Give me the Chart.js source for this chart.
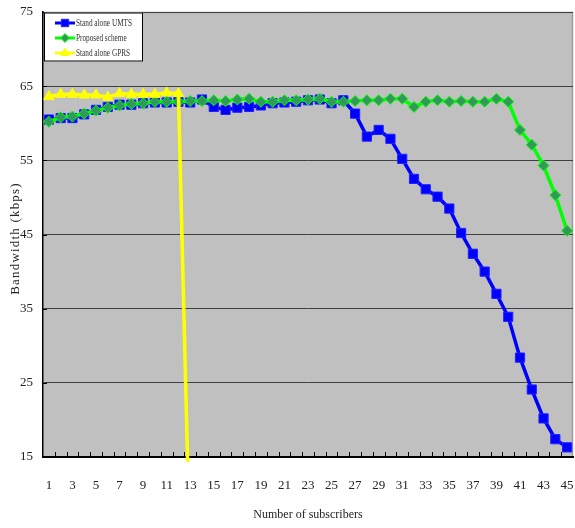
<!DOCTYPE html>
<html>
<head>
<meta charset="utf-8">
<script src="https://cdn.jsdelivr.net/npm/chart.js@4/dist/chart.umd.min.js"></script>
<style>
  html, body { margin: 0; padding: 0; background: #fff; }
  canvas { display: block; }
</style>
</head>
<body>
<canvas id="c" width="575" height="528"></canvas>
<script>
// Number of subscribers (x categories)
const subscribers = [1, 2, 3, 4, 5, 6, 7, 8, 9, 10, 11, 12, 13, 14, 15, 16, 17, 18, 19, 20,
  21, 22, 23, 24, 25, 26, 27, 28, 29, 30, 31, 32, 33, 34, 35, 36, 37, 38, 39, 40,
  41, 42, 43, 44, 45];

// Bandwidth per scheme (kbps)
const umts = [60.5, 60.7, 60.7, 61.2, 61.8, 62.2, 62.5, 62.5, 62.7, 62.8,
  62.8, 62.9, 62.8, 63.2, 62.2, 61.8, 62.1, 62.2, 62.4, 62.7,
  62.8, 62.9, 63.1, 63.2, 62.7, 63.1, 61.3, 58.2, 59.1, 57.9,
  55.2, 52.5, 51.1, 50.1, 48.5, 45.2, 42.4, 40.0, 37.0, 33.9,
  28.4, 24.1, 20.2, 17.4, 16.3];

const proposed = [60.2, 60.8, 60.9, 61.3, 61.7, 62.1, 62.4, 62.6, 62.7, 62.9,
  62.9, 62.9, 63.0, 63.0, 63.1, 63.0, 63.2, 63.3, 62.9, 62.9,
  63.1, 63.1, 63.2, 63.3, 62.9, 62.9, 63.0, 63.1, 63.1, 63.3,
  63.3, 62.2, 62.9, 63.1, 62.9, 63.0, 62.9, 62.9, 63.3, 62.9,
  59.1, 57.1, 54.3, 50.3, 45.5];

const gprs = [63.6, 63.9, 63.9, 63.8, 63.8, 63.5, 64.0, 63.9, 63.9, 63.9,
  64.1, 64.0, 0, null, null, null, null, null, null, null,
  null, null, null, null, null, null, null, null, null, null,
  null, null, null, null, null, null, null, null, null, null,
  null, null, null, null, null];

const seriesNames = ['Stand alone UMTS', 'Proposed scheme', 'Stand alone GPRS'];
const yTicks = [15, 25, 35, 45, 55, 65, 75];

const SERIF = '"Liberation Serif", "Times New Roman", serif';

// Grey plot background plus light top/right frame
const plotFrame = {
  id: 'plotFrame',
  beforeDraw(chart) {
    const { ctx, chartArea: a } = chart;
    ctx.save();
    ctx.fillStyle = '#c0c0c0';
    ctx.fillRect(a.left, a.top, a.right - a.left, a.bottom - a.top);
    ctx.strokeStyle = '#9a9a9a';
    ctx.lineWidth = 1.5;
    ctx.beginPath();
    ctx.moveTo(a.left, a.top + 0.5);
    ctx.lineTo(a.right - 0.5, a.top + 0.5);
    ctx.lineTo(a.right - 0.5, a.bottom);
    ctx.stroke();
    ctx.restore();
  },
  beforeDatasetsDraw(chart) {
    // inward tick marks on both axes
    const { ctx, chartArea: a, scales } = chart;
    const xs = scales.x, ys = scales.y;
    ctx.save();
    ctx.strokeStyle = '#000';
    ctx.lineWidth = 1;
    ctx.beginPath();
    for (let i = 0; i < subscribers.length - 1; i++) {
      const px = Math.round((xs.getPixelForValue(i) + xs.getPixelForValue(i + 1)) / 2) + 0.5;
      ctx.moveTo(px, a.bottom);
      ctx.lineTo(px, a.bottom - 5);
    }
    yTicks.forEach(v => {
      const py = Math.round(ys.getPixelForValue(v)) + 0.5;
      ctx.moveTo(a.left, py);
      ctx.lineTo(a.left + 4, py);
    });
    ctx.stroke();

    // rotated, letter-spaced y title
    ctx.fillStyle = '#222';
    ctx.font = '13px ' + SERIF;
    ctx.letterSpacing = '1.2px';
    ctx.textAlign = 'center';
    ctx.textBaseline = 'middle';
    ctx.translate(16, (a.top + a.bottom) / 2 + 4);
    ctx.rotate(-Math.PI / 2);
    ctx.fillText('Bandwidth (kbps)', 0, 0);
    ctx.restore();
  },
  afterDraw(chart) {
    // boxed legend in the upper-left corner of the plot
    const { ctx, chartArea: a } = chart;
    const x0 = a.left + 1, y0 = a.top + 0.5, w = 99, h = 49;
    ctx.save();
    ctx.fillStyle = '#fff';
    ctx.fillRect(x0, y0, w, h);
    ctx.strokeStyle = '#000';
    ctx.lineWidth = 1;
    ctx.strokeRect(x0 + 0.5, y0 + 0.5, w - 1, h - 1);
    const rows = [10.5, 25.5, 40.5];
    chart.data.datasets.forEach((ds, i) => {
      const y = y0 + rows[i];
      ctx.strokeStyle = ds.borderColor;
      ctx.lineWidth = 3;
      ctx.beginPath();
      ctx.moveTo(x0 + 11, y);
      ctx.lineTo(x0 + 31, y);
      ctx.stroke();
      ctx.fillStyle = ds.pointBackgroundColor;
      ctx.strokeStyle = ds.pointBorderColor;
      ctx.lineWidth = 1;
      Chart.helpers.drawPoint(ctx, {
        pointStyle: ds.pointStyle, radius: ds.pointRadius * 0.8, rotation: 0, borderWidth: 1
      }, x0 + 21, y);
      // narrow serif caption
      ctx.save();
      ctx.translate(x0 + 32, y + 0.5);
      ctx.scale(0.66, 1);
      ctx.fillStyle = '#333';
      ctx.font = '11px ' + SERIF;
      ctx.textAlign = 'left';
      ctx.textBaseline = 'middle';
      ctx.fillText(ds.label, 0, 0);
      ctx.restore();
    });
    ctx.restore();
  }
};

new Chart(document.getElementById('c'), {
  type: 'line',
  data: {
    labels: subscribers,
    datasets: [
      {
        label: seriesNames[0],
        data: umts,
        borderColor: '#0000ff',
        backgroundColor: '#0000ff',
        pointBackgroundColor: '#0000ff',
        pointBorderColor: '#2020ff',
        pointStyle: 'rect',
        pointRadius: 6.5,
        pointBorderWidth: 1,
        borderWidth: 3.5,
        tension: 0,
        order: 3
      },
      {
        label: seriesNames[1],
        data: proposed,
        borderColor: '#00ff00',
        backgroundColor: '#00ff00',
        pointBackgroundColor: '#33995a',
        pointBorderColor: '#00ff00',
        pointStyle: 'rectRot',
        pointRadius: 5.5,
        pointBorderWidth: 1,
        borderWidth: 3.5,
        tension: 0,
        order: 2
      },
      {
        label: seriesNames[2],
        data: gprs,
        borderColor: '#ffff00',
        backgroundColor: '#ffff00',
        pointBackgroundColor: '#ffff00',
        pointBorderColor: '#ffff00',
        pointStyle: 'triangle',
        pointRadius: 6,
        pointBorderWidth: 1,
        borderWidth: 3.5,
        tension: 0,
        spanGaps: false,
        clip: { left: 0, top: 0, right: 0, bottom: 5 },
        order: 1
      }
    ]
  },
  options: {
    responsive: false,
    animation: false,
    layout: { autoPadding: false, padding: { top: 12, right: 2, left: 0, bottom: 0 } },
    plugins: {
      legend: { display: false },
      tooltip: { enabled: false }
    },
    scales: {
      x: {
        type: 'category',
        offset: true,
        grid: {
          display: true,
          drawOnChartArea: false,
          drawTicks: true,
          tickLength: 19,
          color: 'rgba(0,0,0,0)'
        },
        border: { display: true, color: '#000', width: 2 },
        ticks: {
          autoSkip: false,
          maxRotation: 0,
          padding: 2,
          color: '#222',
          font: { family: SERIF, size: 13 },
          callback(value, index) { return index % 2 === 0 ? subscribers[index] : ''; }
        },
        title: {
          display: true,
          text: 'Number of subscribers',
          color: '#222',
          font: { family: SERIF, size: 12 },
          padding: { top: 12, bottom: 6 }
        },
        afterFit(scale) {
          scale.height = 71;
          scale.paddingLeft = 0;
          scale.paddingRight = 0;
        }
      },
      y: {
        min: 15,
        max: 75,
        grid: { color: '#404040', lineWidth: 1, drawTicks: false },
        border: { display: true, color: '#000', width: 1.5 },
        ticks: {
          stepSize: 10,
          padding: 10,
          color: '#222',
          font: { family: SERIF, size: 13 }
        },
        afterFit(scale) {
          scale.width = 43;
          scale.paddingTop = 0;
          scale.paddingBottom = 0;
        }
      }
    }
  },
  plugins: [plotFrame]
});
</script>
</body>
</html>
